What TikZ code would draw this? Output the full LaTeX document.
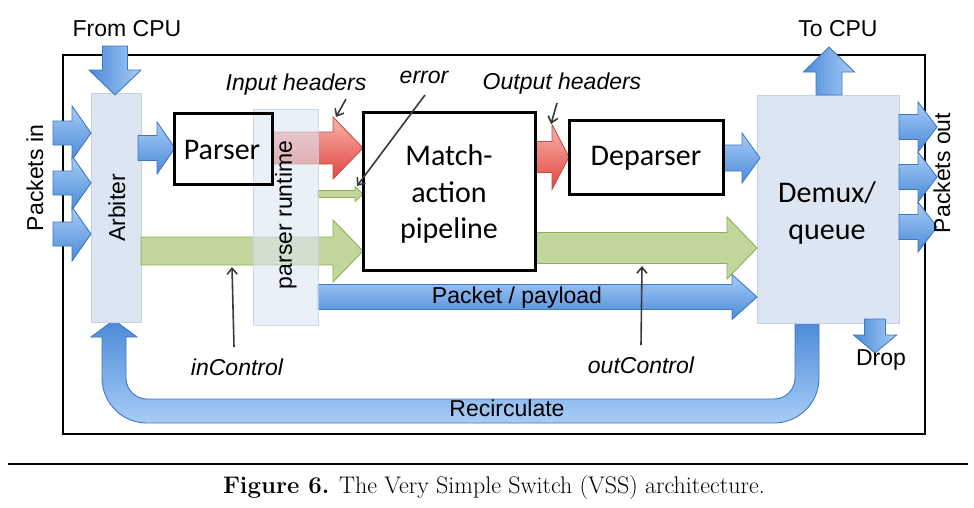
\documentclass[tikz,border=0pt]{standalone}
\usepackage{fontspec}
\newfontfamily\arialf{Liberation Sans}
\newfontfamily\calibf{Carlito}
\usetikzlibrary{arrows.meta}
\definecolor{bLight}{HTML}{A8CCF7}
\definecolor{bDark}{HTML}{4A8AD8}
\definecolor{bEdge}{HTML}{3E78C2}
\definecolor{rLight}{HTML}{F9B3AC}
\definecolor{rDark}{HTML}{E0463E}
\definecolor{rEdge}{HTML}{C0504D}
\definecolor{gFill}{HTML}{C3D69B}
\definecolor{gEdge}{HTML}{8DB255}
\definecolor{paneFill}{HTML}{DCE6F2}
\definecolor{paneEdge}{HTML}{C5D3E5}
\definecolor{ptrCol}{HTML}{3A3A3A}
\newcommand\hArrow[7]{\path[#1] (#2,{#5-#6}) -- (#3,{#5-#6}) -- (#3,{#5-#7}) -- (#4,#5) -- (#3,{#5+#7}) -- (#3,{#5+#6}) -- (#2,{#5+#6}) -- cycle;}
\newcommand\vArrow[7]{\path[#1] ({#2-#6},#3) -- ({#2-#6},#4) -- ({#2-#7},#4) -- (#2,#5) -- ({#2+#7},#4) -- ({#2+#6},#4) -- ({#2+#6},#3) -- cycle;}
\tikzset{
  lbl/.style={font=\arialf\fontsize{23}{27}\selectfont, inner sep=0pt},
  ilbl/.style={font=\arialf\itshape\fontsize{23}{27}\selectfont, inner sep=0pt},
  cal/.style={font=\calibf\fontsize{30}{36.5}\selectfont, align=center},
  box/.style={draw=black, line width=3pt, inner sep=0pt},
  pane/.style={fill=paneFill, draw=paneEdge, line width=0.8pt, inner sep=0pt},
  bluearr/.style={top color=bLight, bottom color=bDark, draw=bEdge, line width=0.9pt},
  bluearrv/.style={left color=bDark, right color=bLight, draw=bEdge, line width=0.9pt},
  redarr/.style={top color=rLight, bottom color=rDark, draw=rEdge, line width=0.9pt},
  greenarr/.style={fill=gFill, draw=gEdge, line width=0.9pt},
  recirc/.style={top color=bDark, bottom color=bLight, draw=bEdge, line width=0.9pt},
  ptr/.style={draw=ptrCol, line width=1.6pt, -{Straight Barb[length=6pt,width=10pt]}},
}
\begin{document}
\begin{tikzpicture}[x=1pt,y=-1pt]
\useasboundingbox (0,0) rectangle (974,507);
% outer frame
\draw[line width=2.2pt] (63,55) rectangle (925,434);
% recirculate loop
\path[recirc] (819,323) -- (819,378) .. controls (819,402.85) and (798.85,423) .. (774,423)
  -- (147,423) .. controls (122.15,423) and (102,402.85) .. (102,378)
  -- (102,337) -- (91,337) -- (114,320) -- (137,337) -- (126,337)
  -- (126,378) .. controls (126,389.6) and (135.4,399) .. (147,399)
  -- (774,399) .. controls (785.6,399) and (795,389.6) .. (795,378) -- (795,323) -- cycle;
% panes
\node[pane, minimum width=50pt, minimum height=229pt] (arb) at (116,207.5) {};
\node[pane, minimum width=142pt, minimum height=228pt] (demux) at (828,209) {};
% packets in
\hArrow{bluearr}{53}{72}{91}{133}{12}{27}
\hArrow{bluearr}{53}{72}{91}{183}{12}{27}
\hArrow{bluearr}{53}{72}{91}{234}{12}{27}
% from CPU
\vArrow{bluearrv}{115}{46}{70}{95}{12.5}{26}
% arbiter -> parser
\hArrow{bluearr}{138}{157}{175}{148}{12.5}{26}
% input headers (red)
\hArrow{redarr}{272}{333}{363}{148}{16}{31}
% error (small green)
\hArrow{greenarr}{318}{355}{363}{194}{3.5}{7.5}
% inControl (green)
\hArrow{greenarr}{141}{333}{363}{251}{14}{31}
% output headers (red)
\hArrow{redarr}{535}{552}{569}{157}{15.5}{32.5}
% deparser -> demux
\hArrow{bluearr}{723}{742}{760}{158}{13}{25}
% outControl (green)
\hArrow{greenarr}{535}{727}{757}{248}{15.5}{31}
% packet / payload
\hArrow{bluearr}{318}{732}{757}{297}{12.5}{22.5}
% packets out
\hArrow{bluearr}{899}{918}{937}{127}{12.5}{25}
\hArrow{bluearr}{899}{918}{937}{177}{12.5}{25}
\hArrow{bluearr}{899}{918}{937}{227}{12.5}{25}
% to CPU
\vArrow{bluearrv}{829}{95}{72}{47}{13}{25.5}
% drop
\vArrow{bluearrv}{875}{319}{335}{353}{10.5}{21.5}
% parser runtime pane (translucent)
\node[pane, fill opacity=0.6, draw opacity=0.8, minimum width=65pt, minimum height=216pt] (rt) at (285.5,217) {};
% boxes
\node[box, minimum width=98pt, minimum height=71pt] (parser) at (223,148.5) {};
\node[cal] (parsertxt) at (222,150) {Parser};
\node[box, fill=white, minimum width=172pt, minimum height=158pt] (mat) at (449,191) {};
\node[cal] (mattxt) at (449,194) {Match-\\action\\pipeline};
\node[box, fill=white, minimum width=154pt, minimum height=74pt] (dep) at (646,157) {};
\node[cal] (deptxt) at (646,158) {Deparser};
\node[cal] (demuxtxt) at (827,213) {Demux/\\queue};
% labels
\node[lbl] (fromcpu) at (127,29) {From CPU};
\node[lbl] (tocpu) at (838,29) {To CPU};
\node[lbl, rotate=90] (pin) at (35,178) {Packets in};
\node[lbl, rotate=90] (pout) at (942,173) {Packets out};
\node[lbl, rotate=90] (arbtxt) at (117,208) {Arbiter};
\node[lbl, rotate=90] (rttxt) at (286,215) {parser runtime};
\node[lbl] (payload) at (517,298) {Packet / payload};
\node[lbl] (recirctxt) at (507,408) {Recirculate};
\node[lbl] (drop) at (881,360) {Drop};
\node[ilbl] (ih) at (296,85) {Input headers};
\node[ilbl] (err) at (424,77) {error};
\node[ilbl] (oh) at (562,84) {Output headers};
\node[ilbl] (inctl) at (237,367) {inControl};
\node[ilbl] (outctl) at (641,365) {outControl};
% pointers
\coordinate (ihA) at (346,99);  \coordinate (ihB) at (336,117);
\coordinate (errA) at (425,95); \coordinate (errB) at (357,186);
\coordinate (ohA) at (557,103); \coordinate (ohB) at (551,124);
\coordinate (icA) at (234,347); \coordinate (icB) at (232,267);
\coordinate (ocA) at (641,345); \coordinate (ocB) at (642,266);
\draw[ptr] (ihA) -- (ihB);
\draw[ptr] (errA) -- (errB);
\draw[ptr] (ohA) -- (ohB);
\draw[ptr] (icA) -- (icB);
\draw[ptr] (ocA) -- (ocB);
% caption
\draw[line width=1.3pt] (8,464) -- (968,464);
\node[font=\fontsize{24}{28}\selectfont, anchor=base, inner sep=0pt] (cap) at (494,493) {\textbf{Figure 6.} The Very Simple Switch (VSS) architecture.};
\end{tikzpicture}
\end{document}
